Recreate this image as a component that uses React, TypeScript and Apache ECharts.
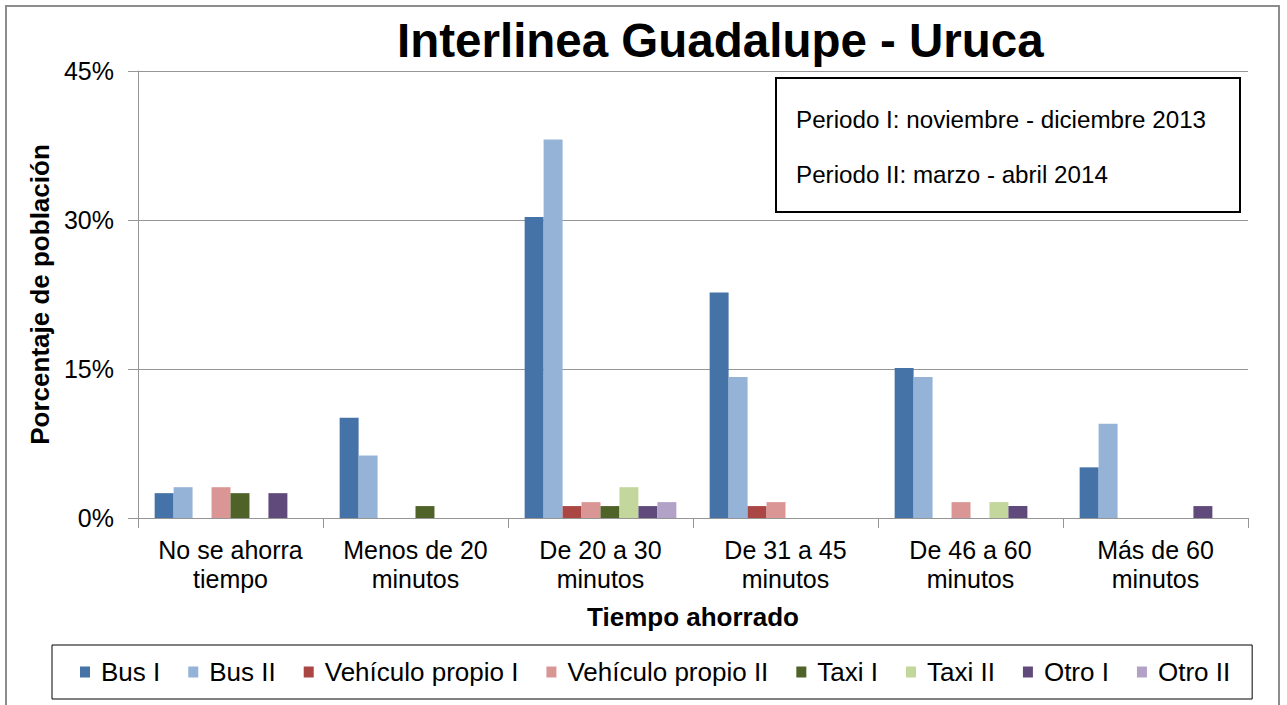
import React, { useEffect, useRef } from "react";
import * as echarts from "echarts";

const categories = [
  "No se ahorra\ntiempo",
  "Menos de 20\nminutos",
  "De 20 a 30\nminutos",
  "De 31 a 45\nminutos",
  "De 46 a 60\nminutos",
  "Más de 60\nminutos",
];
const seriesNames = [
  "Bus I",
  "Bus II",
  "Vehículo propio I",
  "Vehículo propio II",
  "Taxi I",
  "Taxi II",
  "Otro I",
  "Otro II",
];
const busI = [2.5, 10.1, 30.3, 22.7, 15.1, 5.1];
const busII = [3.1, 6.3, 38.1, 14.2, 14.2, 9.5];
const vehI = [0, 0, 1.2, 1.2, 0, 0];
const vehII = [3.1, 0, 1.6, 1.6, 1.6, 0];
const taxiI = [2.5, 1.2, 1.2, 0, 0, 0];
const taxiII = [0, 0, 3.1, 0, 1.6, 0];
const otroI = [2.5, 0, 1.2, 0, 1.2, 1.2];
const otroII = [0, 0, 1.6, 0, 0, 0];
const colors = ["#4572A7", "#95B3D7", "#AA4643", "#D99694", "#4F6228", "#C3D69B", "#604A7B", "#B3A2C7"];
const yTicks = [0, 15, 30, 45];

const FONT = "'Liberation Sans', Arial, sans-serif";

export default function App() {
  const ref = useRef<HTMLDivElement>(null);
  useEffect(() => {
    if (!ref.current) return;
    const chart = echarts.init(ref.current, null, { renderer: "svg" });
    const allData = [busI, busII, vehI, vehII, taxiI, taxiII, otroI, otroII];
    chart.setOption({
      animation: false,
      backgroundColor: "#ffffff",
      textStyle: { fontFamily: FONT },
      title: {
        text: "Interlinea Guadalupe - Uruca",
        left: 392,
        top: 11,
        textStyle: { fontFamily: FONT, fontSize: 47.5, fontWeight: "bold", color: "#000" },
      },
      color: colors,
      legend: {
        data: seriesNames,
        left: 52,
        top: 645,
        padding: [14, 22, 14, 28],
        itemGap: 28,
        itemWidth: 10,
        itemHeight: 11,
        icon: "rect",
        borderColor: "#000",
        borderWidth: 1,
        textStyle: { fontFamily: FONT, fontSize: 26, color: "#000", padding: [0, 0, 0, 6] },
      },
      grid: { left: 138, right: 39, top: 71, bottom: 187, containLabel: false },
      xAxis: {
        type: "category",
        data: categories,
        name: "Tiempo ahorrado",
        nameLocation: "middle",
        nameGap: 86,
        nameTextStyle: { fontFamily: FONT, fontSize: 26, fontWeight: "bold", color: "#000" },
        axisLine: { lineStyle: { color: "#969696", width: 1 } },
        axisTick: { show: true, length: 10, lineStyle: { color: "#969696" } },
        axisLabel: {
          interval: 0,
          fontFamily: FONT,
          fontSize: 25,
          color: "#000",
          lineHeight: 29,
          margin: 17,
        },
      },
      yAxis: {
        type: "value",
        min: yTicks[0],
        max: yTicks[yTicks.length - 1],
        interval: 15,
        name: "Porcentaje de población",
        nameLocation: "middle",
        nameGap: 84,
        nameTextStyle: { fontFamily: FONT, fontSize: 26, fontWeight: "bold", color: "#000" },
        axisLine: { show: true, lineStyle: { color: "#969696", width: 1 } },
        axisTick: { show: true, length: 10, lineStyle: { color: "#969696" } },
        axisLabel: { fontFamily: FONT, fontSize: 25, color: "#000", margin: 24, formatter: "{value}%" },
        splitLine: { lineStyle: { color: "#969696", width: 1 } },
      },
      series: seriesNames.map((name, i) => ({
        name,
        type: "bar",
        data: allData[i],
        barGap: "0%",
        barCategoryGap: "18%",
        itemStyle: { color: colors[i] },
      })),
      graphic: [
        {
          type: "rect",
          shape: { x: 6, y: 6, width: 1273, height: 740 },
          style: { fill: "none", stroke: "#8c8c8c", lineWidth: 2 },
          silent: true,
          z: 100,
        },
        {
          type: "group",
          z: 100,
          children: [
            {
              type: "rect",
              shape: { x: 776, y: 78, width: 464, height: 134 },
              style: { fill: "#fff", stroke: "#000", lineWidth: 2 },
            },
            {
              type: "text",
              x: 796,
              y: 119,
              style: {
                text: "Periodo I: noviembre - diciembre 2013",
                fontFamily: FONT,
                fontSize: 24.2,
                fill: "#000",
                textVerticalAlign: "middle",
              },
            },
            {
              type: "text",
              x: 796,
              y: 174,
              style: {
                text: "Periodo II: marzo - abril 2014",
                fontFamily: FONT,
                fontSize: 24.2,
                fill: "#000",
                textVerticalAlign: "middle",
              },
            },
          ],
        },
      ],
    });
    return () => chart.dispose();
  }, []);
  return (
    <div
      ref={ref}
      style={{ position: "absolute", left: 0, top: 0, width: 1287, height: 705 }}
    />
  );
}
